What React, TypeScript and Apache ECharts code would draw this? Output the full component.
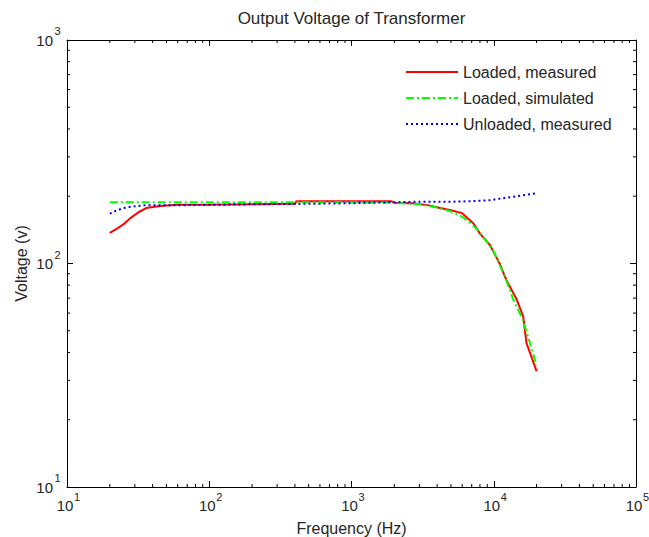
import React, { useEffect, useRef } from "react";
import * as echarts from "echarts";

const chartTitle = "Output Voltage of Transformer";
const xAxisTitle = "Frequency (Hz)";
const yAxisTitle = "Voltage (v)";
const seriesNames = ["Loaded, measured", "Loaded, simulated", "Unloaded, measured"];

const loadedMeasuredFreq = [20, 22, 25, 28, 32, 36, 45, 60, 100, 200, 400, 410, 1900, 2000, 2700, 3500, 4200, 5000, 6000, 7200, 8000, 9400, 11000, 12300, 14500, 16100, 17000, 20000];
const loadedMeasuredVolt = [137, 142, 150, 160, 170, 177, 181, 183, 183, 184, 185, 190, 190, 187, 186, 182, 177, 173, 168, 151, 136, 121, 100, 84, 69, 58, 44, 33];

const loadedSimulatedFreq = [20, 50, 100, 500, 1000, 2000, 3000, 4000, 5000, 6000, 7000, 8000, 10000, 12000, 13700, 16000, 18000, 20000];
const loadedSimulatedVolt = [188, 188, 188, 188, 188, 187, 184, 178, 171, 162, 150, 138, 113, 87, 69, 56, 44, 35];

const unloadedMeasuredFreq = [20, 22, 25, 29, 35, 50, 100, 200, 500, 1000, 2000, 3000, 5000, 7000, 9400, 11000, 13700, 16000, 20000];
const unloadedMeasuredVolt = [167, 172, 177, 180, 182, 182, 183, 184, 185, 186, 188, 189, 189, 190, 192, 195, 199, 202, 206];

const xMin = 10;
const xMax = 100000;
const yMin = 10;
const yMax = 1000;
const xTickValues = [10, 100, 1000, 10000, 100000];
const yTickValues = [10, 100, 1000];
const minorMultipliers = [2, 3, 4, 5, 6, 7, 8, 9];
const xDecades = [10, 100, 1000, 10000];
const yDecades = [10, 100];

const FONT = "'Liberation Sans', Arial, Helvetica, sans-serif";
const TXT = "#262626";

function pairs(xs: number[], ys: number[]) {
  return xs.map((x, i) => [x, ys[i]]);
}

export default function App() {
  const ref = useRef<HTMLDivElement>(null);
  useEffect(() => {
    if (!ref.current) return;
    const chart = echarts.init(ref.current, undefined, { renderer: "svg" });

    const xMinor: number[] = [];
    xDecades.forEach((d) => minorMultipliers.forEach((m) => xMinor.push(d * m)));
    const yMinor: number[] = [];
    yDecades.forEach((d) => minorMultipliers.forEach((m) => yMinor.push(d * m)));

    const axisLineStyle = { color: "#000", width: 1 };
    const tick = { show: true, inside: true, length: 6, lineStyle: { color: "#000", width: 1 } };

    const tickLine = (x1: number, y1: number, x2: number, y2: number) => ({
      type: "line",
      shape: { x1, y1, x2, y2 },
      style: { stroke: "#000", lineWidth: 1 },
      silent: true,
    });
    const txt = (text: string, x: number, y: number, size: number, align: string) => ({
      type: "text",
      x,
      y,
      silent: true,
      style: { text, x: 0, y: 0, fontSize: size, fontFamily: FONT, fill: TXT, align, verticalAlign: "middle" },
    });
    const expOf = (v: number) => String(Math.round(Math.log10(v)));

    const baseAxis = (extra: any) => ({
      type: "log",
      logBase: 10,
      axisLine: { show: true, lineStyle: axisLineStyle },
      axisTick: tick,
      splitLine: { show: false },
      axisLabel: { show: false },
      ...extra,
    });

    chart.setOption({
      animation: false,
      backgroundColor: "#fff",
      graphic: [
        {
          type: "text",
          x: 351.5,
          y: 18,
          style: {
            text: chartTitle,
            fontSize: 17,
            fontFamily: FONT,
            fill: TXT,
            align: "center",
            verticalAlign: "middle",
          },
        },
      ],
      grid: { left: 67, right: 13, top: 40, bottom: 50, containLabel: false, outerBoundsMode: "none" },
      legend: {
        data: seriesNames,
        orient: "vertical",
        left: 405,
        top: 64,
        padding: 0,
        itemWidth: 52,
        itemHeight: 14,
        itemGap: 10,
        itemStyle: { opacity: 0 },
        textStyle: { fontSize: 16, fontFamily: FONT, color: TXT },
      },
      xAxis: [
        baseAxis({
          min: xMin,
          max: xMax,
          position: "bottom",
          name: xAxisTitle,
          nameLocation: "middle",
          nameGap: 33,
          nameTextStyle: { fontSize: 16, fontFamily: FONT, color: TXT },
        }),
        baseAxis({ min: xMin, max: xMax, position: "top" }),
      ],
      yAxis: [
        baseAxis({
          min: yMin,
          max: yMax,
          position: "left",
          name: yAxisTitle,
          nameLocation: "middle",
          nameGap: 38,
          nameTextStyle: { fontSize: 16, fontFamily: FONT, color: TXT },
        }),
        baseAxis({ min: yMin, max: yMax, position: "right" }),
      ],
      series: [
        {
          name: seriesNames[0],
          type: "line",
          data: pairs(loadedMeasuredFreq, loadedMeasuredVolt),
          symbol: "none",
          showSymbol: false,
          lineStyle: { color: "#ff0000", width: 2 },
          itemStyle: { color: "#ff0000" },
          z: 3,
        },
        {
          name: seriesNames[1],
          type: "line",
          data: pairs(loadedSimulatedFreq, loadedSimulatedVolt),
          symbol: "none",
          showSymbol: false,
          lineStyle: { color: "#00ff00", width: 2, type: [8, 3, 2, 3] },
          itemStyle: { color: "#00ff00" },
          z: 4,
        },
        {
          name: seriesNames[2],
          type: "line",
          data: pairs(unloadedMeasuredFreq, unloadedMeasuredVolt),
          symbol: "none",
          showSymbol: false,
          lineStyle: { color: "#0000ff", width: 2, type: [2, 3] },
          itemStyle: { color: "#0000ff" },
          z: 5,
        },
        {
          type: "custom",
          silent: true,
          clip: false,
          data: xMinor.map((v) => [v, 100]),
          encode: { x: 0, y: 1 },
          renderItem: (_p: any, api: any) => {
            const v = api.value(0);
            const b = api.coord([v, yMin]);
            const t = api.coord([v, yMax]);
            return {
              type: "group",
              children: [tickLine(b[0], b[1], b[0], b[1] - 3), tickLine(t[0], t[1], t[0], t[1] + 3)],
            };
          },
          z: 6,
        },
        {
          type: "custom",
          silent: true,
          clip: false,
          data: yMinor.map((v) => [100, v]),
          encode: { x: 0, y: 1 },
          renderItem: (_p: any, api: any) => {
            const v = api.value(1);
            const l = api.coord([xMin, v]);
            const r = api.coord([xMax, v]);
            return {
              type: "group",
              children: [tickLine(l[0], l[1], l[0] + 3, l[1]), tickLine(r[0], r[1], r[0] - 3, r[1])],
            };
          },
          z: 6,
        },
        {
          type: "custom",
          silent: true,
          clip: false,
          data: xTickValues.map((v) => [v, 100]),
          encode: { x: 0, y: 1 },
          renderItem: (_p: any, api: any) => {
            const v = api.value(0);
            const p = api.coord([v, yMin]);
            return {
              type: "group",
              children: [txt("10", p[0] - 2, p[1] + 18, 15, "center"), txt(expOf(v), p[0] + 7, p[1] + 10, 11, "left")],
            };
          },
          z: 7,
        },
        {
          type: "custom",
          silent: true,
          clip: false,
          data: yTickValues.map((v) => [100, v]),
          encode: { x: 0, y: 1 },
          renderItem: (_p: any, api: any) => {
            const v = api.value(1);
            const p = api.coord([xMin, v]);
            return {
              type: "group",
              children: [txt("10", p[0] - 14, p[1], 15, "right"), txt(expOf(v), p[0] - 12.5, p[1] - 9, 11, "left")],
            };
          },
          z: 7,
        },
      ],
    });
    return () => chart.dispose();
  }, []);
  return <div ref={ref} style={{ width: 649, height: 537, position: "absolute", left: 0, top: 0 }} />;
}
